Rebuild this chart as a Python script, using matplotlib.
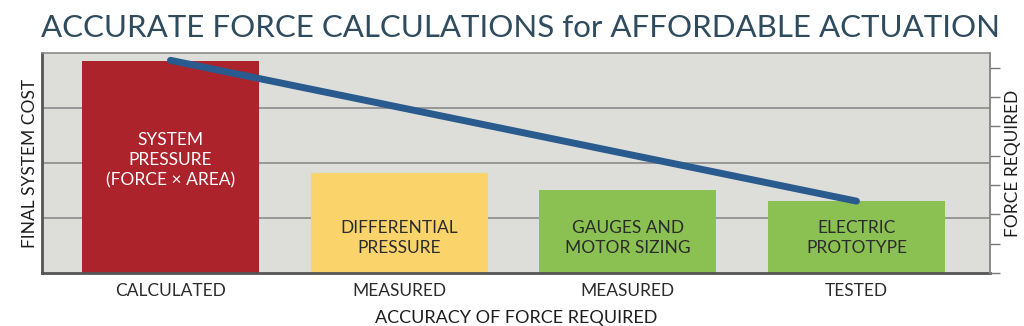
import matplotlib.pyplot as plt
import numpy as np

# data
stages = ['CALCULATED', 'MEASURED', 'MEASURED', 'TESTED']
bar_labels = ['SYSTEM\nPRESSURE\n(FORCE \u00d7 AREA)', 'DIFFERENTIAL\nPRESSURE',
              'GAUGES AND\nMOTOR SIZING', 'ELECTRIC\nPROTOTYPE']
system_cost = [3.85, 1.82, 1.51, 1.31]
force_required = [7.25, 5.65, 4.05, 2.45]
bar_colors = ['#AC232C', '#FAD46B', '#8BC153', '#8BC153']
text_colors = ['white', '#2b2b2b', '#2b2b2b', '#2b2b2b']
label_y = [2.05, 0.64, 0.64, 0.64]

plt.rcParams['font.family'] = ['Lato', 'DejaVu Sans']

fig = plt.figure(figsize=(10.24, 3.26), dpi=100)
ax = fig.add_axes([42/1024, 53/326, 948/1024, 220/326])
ax.set_facecolor('#DDDED9')

x = np.arange(len(stages))
ax.bar(x, system_cost, width=0.774, color=bar_colors, zorder=2)
for xi, lab, tc, ly in zip(x, bar_labels, text_colors, label_y):
    ax.text(xi, ly, lab, ha='center', va='center', color=tc, fontsize=12.5,
            linespacing=1.3, zorder=3)

ax.set_xlim(-0.562, 3.584)
ax.set_ylim(0, 4)
ax.set_yticks([1, 2, 3])
ax.yaxis.grid(True, color='#8a8a8a', linewidth=1.2, zorder=1)
ax.tick_params(axis='y', length=0, labelleft=False)
ax.set_xticks(x)
ax.set_xticklabels(stages, fontsize=12.5, color='#2b2b2b')
ax.tick_params(axis='x', length=0, pad=7)
ax.set_xlabel('ACCURACY OF FORCE REQUIRED', fontsize=13, color='#1e1e1e', labelpad=8)
ax.set_ylabel('FINAL SYSTEM COST', fontsize=12.5, color='#1e1e1e', labelpad=3)

for side in ['left', 'bottom']:
    ax.spines[side].set_color('#555555')
    ax.spines[side].set_linewidth(2)
for side in ['top', 'right']:
    ax.spines[side].set_color('#8a8a8a')
    ax.spines[side].set_linewidth(1.2)

ax2 = ax.twinx()
ax2.plot(x, force_required, color='#2A5B8E', linewidth=5, solid_capstyle='round', zorder=4)
ax2.set_ylim(0, 7.5)
ax2.set_yticks(np.arange(0, 8))
ax2.tick_params(axis='y', direction='out', length=7, width=1, color='#777777', labelright=False)
ax2.set_ylabel('FORCE REQUIRED', fontsize=12.5, color='#1e1e1e', labelpad=4)
for side in ['left', 'bottom', 'top']:
    ax2.spines[side].set_visible(False)
ax2.spines['right'].set_color('#8a8a8a')
ax2.spines['right'].set_linewidth(1.2)

fig.text(0.508, 1 - 28/326, 'ACCURATE FORCE CALCULATIONS for AFFORDABLE ACTUATION',
         ha='center', va='center', fontsize=22.5, color='#2F4B5E')

fig.savefig('out.png', dpi=100)
